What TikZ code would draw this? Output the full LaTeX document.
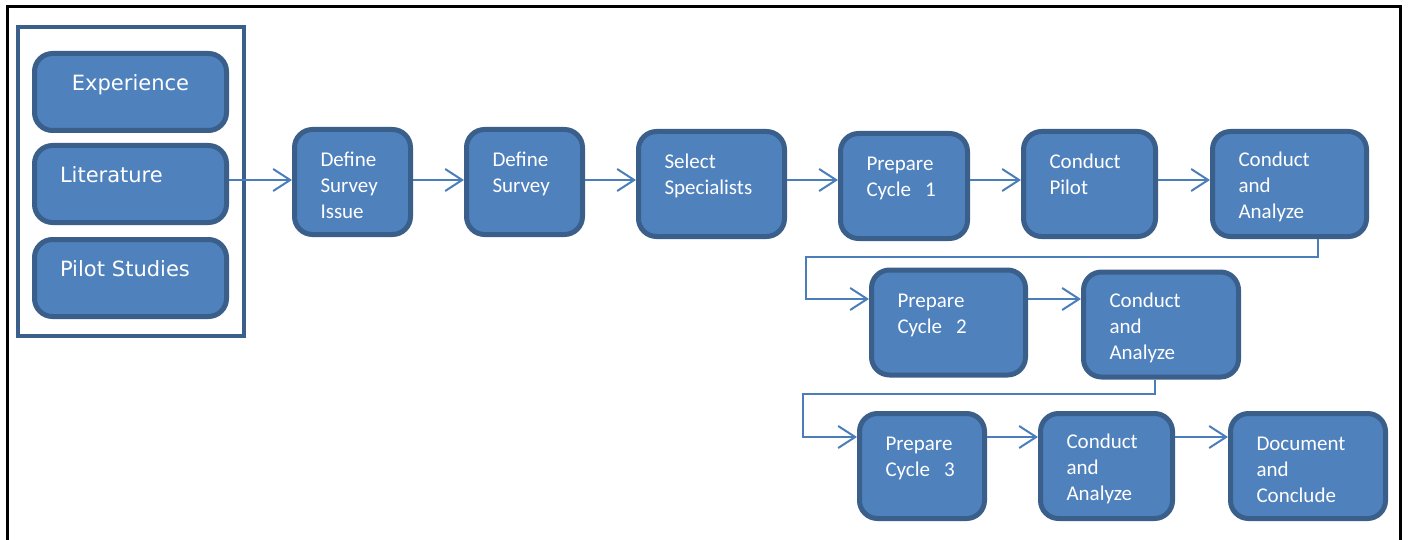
\documentclass[tikz,border=0pt]{standalone}
\usepackage{fontspec}
\newfontfamily\stepfont{Carlito}
\newfontfamily\srcfont{DejaVu Sans}
\usetikzlibrary{arrows.meta, positioning}
\definecolor{boxfill}{HTML}{4F81BD}
\definecolor{boxline}{HTML}{3A5F8B}
\definecolor{flowline}{HTML}{4A7EBB}

\begin{document}
\begin{tikzpicture}[x=0.5pt, y=-0.5pt, >={Straight Barb[length=8.5pt, width=11pt]}]
\tikzstyle{stepbox}=[draw=boxline, fill=boxfill, line width=2.5pt, rounded corners=9pt, text=white, align=left, inner xsep=13pt, inner ysep=0pt, minimum height=52.5pt, font=\stepfont\fontsize{10.5}{13}\selectfont, execute at begin node={\rule{0pt}{10.5pt}}]
\tikzstyle{srcbox}=[stepbox, minimum height=38.5pt, inner xsep=12.75pt, text width=70.5pt, font=\srcfont\fontsize{10.5}{13}\selectfont, execute at begin node={\rule{0pt}{11.5pt}}]
\tikzstyle{srcframe}=[draw=boxline, line width=2pt, fill=white, minimum width=113pt, minimum height=154.5pt, inner sep=0pt]
\tikzstyle{flow}=[->, draw=flowline, line width=1pt]
\useasboundingbox (0,0) rectangle (1408,540);
\draw[line width=1.5pt] (7,560) -- (7,7) -- (1400,7) -- (1400,560);
\node[srcframe] (src) at (131,181.5) {};
\node[srcbox, align=center] (exp) at (130.5,92) {Experience\\\mbox{}};
\node[srcbox] (lit) at (130.5,184) {Literature\\\mbox{}};
\node[srcbox] (pil) at (130.5,278) {Pilot Studies\\\mbox{}};
\node[stepbox, text width=32pt] (dsi) at (352.5,182) {Define\\Survey\\Issue};
\node[stepbox, text width=32pt] (ds) at (524.5,182) {Define\\Survey\\\mbox{}};
\node[stepbox, text width=47pt] (ss) at (711.5,184) {Select\\Specialists\\\mbox{}};
\node[stepbox, text width=37.5pt] (pc1) at (904,186) {Prepare\\Cycle\ \ 1\\\mbox{}};
\node[stepbox, text width=40pt] (cp) at (1089.5,184) {Conduct\\Pilot\\\mbox{}};
\node[stepbox, text width=51pt] (ca1) at (1289.5,184) {Conduct\\and\\Analyze};
\node[stepbox, text width=51pt] (pc2) at (948.5,322.5) {Prepare\\Cycle\ \ 2\\\mbox{}};
\node[stepbox, text width=51.5pt] (ca2) at (1161,324.5) {Conduct\\and\\Analyze};
\node[stepbox, text width=36.5pt] (pc3) at (922,466) {Prepare\\Cycle\ \ 3\\\mbox{}};
\node[stepbox, text width=40pt] (ca3) at (1106.5,466) {Conduct\\and\\Analyze};
\node[stepbox, text width=51.5pt] (dc) at (1308,466) {Document\\and\\Conclude};
\coordinate (row1) at (0,180);
\coordinate (row2) at (0,299);
\coordinate (row3) at (0,437);
\coordinate (drop1) at (1318,257);
\coordinate (back1) at (806,257);
\coordinate (drop2) at (1155,394);
\coordinate (back2) at (803,394);
\draw[flow] (lit.east |- row1) -- (dsi.west |- row1);
\draw[flow] (dsi.east |- row1) -- (ds.west |- row1);
\draw[flow] (ds.east |- row1) -- (ss.west |- row1);
\draw[flow] (ss.east |- row1) -- (pc1.west |- row1);
\draw[flow] (pc1.east |- row1) -- (cp.west |- row1);
\draw[flow] (cp.east |- row1) -- (ca1.west |- row1);
\draw[flow] (ca1.south -| drop1) -- (drop1) -- (back1) |- (pc2.west |- row2);
\draw[flow] (pc2.east |- row2) -- (ca2.west |- row2);
\draw[flow] (ca2.south -| drop2) -- (drop2) -- (back2) |- (pc3.west |- row3);
\draw[flow] (pc3.east |- row3) -- (ca3.west |- row3);
\draw[flow] (ca3.east |- row3) -- (dc.west |- row3);
\end{tikzpicture}
\end{document}
